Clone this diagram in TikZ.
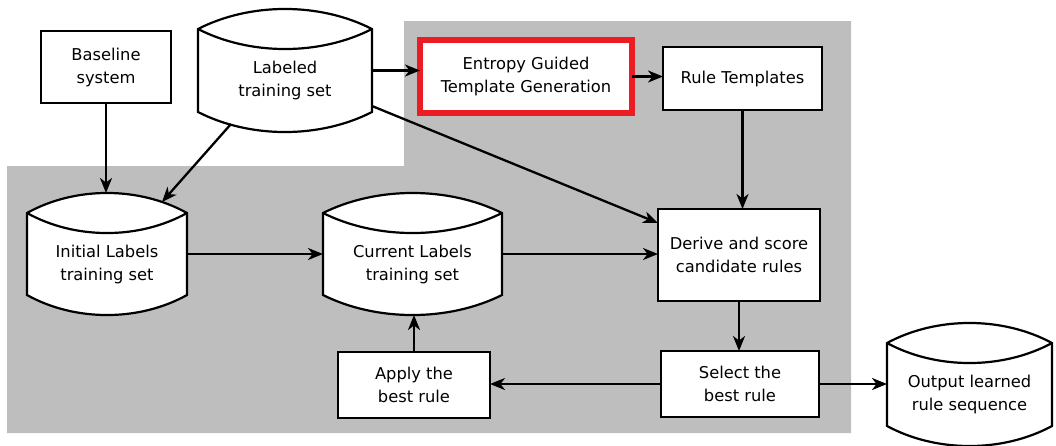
\documentclass[tikz,border=0pt]{standalone}
\usepackage{fontspec}
\setmainfont{DejaVu Sans}
\usetikzlibrary{arrows.meta,calc}
\definecolor{graybg}{RGB}{190,190,190}
\definecolor{boxred}{RGB}{236,28,36}
\tikzset{
  boxnode/.style={draw=black, line width=2.2pt, fill=white, inner sep=0pt, outer sep=0pt, align=center, font=\fontsize{16.3}{23}\selectfont},
  redbox/.style={boxnode, draw=boxred, line width=6pt},
  dbbody/.style={inner sep=0pt, outer sep=0pt},
  dbline/.style={draw=black, fill=white, line width=2.2pt},
  dbtext/.style={inner sep=0pt, align=center, font=\fontsize{16.3}{23}\selectfont},
  arrowline/.style={line width=2.3pt, -{Stealth[length=15pt,width=12pt,inset=4.5pt]}},
}
\newcommand\dbnode[6]{%
  \node[dbbody, minimum width=#4, minimum height=#5] (#1) at (#2,#3) {};
  \filldraw[dbline] (#1.north west) .. controls +(0.3*#4,-26.7) and +(-0.3*#4,-26.7) .. (#1.north east) -- (#1.south east) .. controls +(-0.3*#4,26.7) and +(0.3*#4,26.7) .. (#1.south west) -- cycle;
  \draw[dbline, fill=none] (#1.north west) .. controls +(0.3*#4,26.7) and +(-0.3*#4,26.7) .. (#1.north east);
  \coordinate (#1-top) at ($(#1.north)+(0,-20)$);
  \coordinate (#1-bot) at ($(#1.south)+(0,20)$);
  \node[dbtext] (#1-t) at ($(#1.center)+(0,10)$) {#6};
}
\begin{document}
\begin{tikzpicture}[x=1pt,y=-1pt]
\useasboundingbox (0,0) rectangle (1056,445);
\fill[graybg] (404,21) -- (851,21) -- (851,433) -- (7,433) -- (7,166) -- (404,166) -- cycle;

\node[boxnode, minimum width=130, minimum height=72] (base) at (106,67) {Baseline\\system};
\node[redbox, minimum width=212, minimum height=73] (ent) at (526,76.5) {Entropy Guided\\Template Generation};
\node[boxnode, minimum width=159, minimum height=63] (rt) at (742.5,78.5) {Rule Templates};
\node[boxnode, minimum width=162, minimum height=92] (der) at (739,255) {Derive and score\\candidate rules};
\node[boxnode, minimum width=152, minimum height=66] (app) at (414,385) {Apply the\\best rule};
\node[boxnode, minimum width=158, minimum height=66] (sel) at (740,384) {Select the\\best rule};

\dbnode{lab}{285}{70.5}{174}{83}{Labeled\\training set}
\dbnode{ini}{107}{254}{160}{82}{Initial Labels\\training set}
\dbnode{cur}{412.5}{254}{179}{82}{Current Labels\\training set}
\dbnode{out}{969.5}{384.5}{165}{83}{Output learned\\rule sequence}

\draw[arrowline] (base.south) -- (base.south |- ini-top);
\draw[arrowline] ($(lab.south west)+(33,12)$) -- ($(ini.north east)+(-25,-11)$);
\draw[arrowline] (lab.east) -- (lab.east -| ent.west);
\draw[arrowline] ($(lab.south east)+(0,-6)$) -- ($(der.north west)+(0,14)$);
\draw[arrowline] (ent.east) -- (ent.east -| rt.west);
\draw[arrowline] (rt.south) -- (rt.south |- der.north);
\draw[arrowline] (ini.east) -- (ini.east -| cur.west);
\draw[arrowline] (cur.east) -- (cur.east -| der.west);
\draw[arrowline] (der.south) -- (der.south |- sel.north);
\draw[arrowline] (sel.west) -- (sel.west -| app.east);
\draw[arrowline] (app.north) -- (app.north |- cur-bot);
\draw[arrowline] (sel.east) -- (sel.east -| out.west);
\end{tikzpicture}
\end{document}
